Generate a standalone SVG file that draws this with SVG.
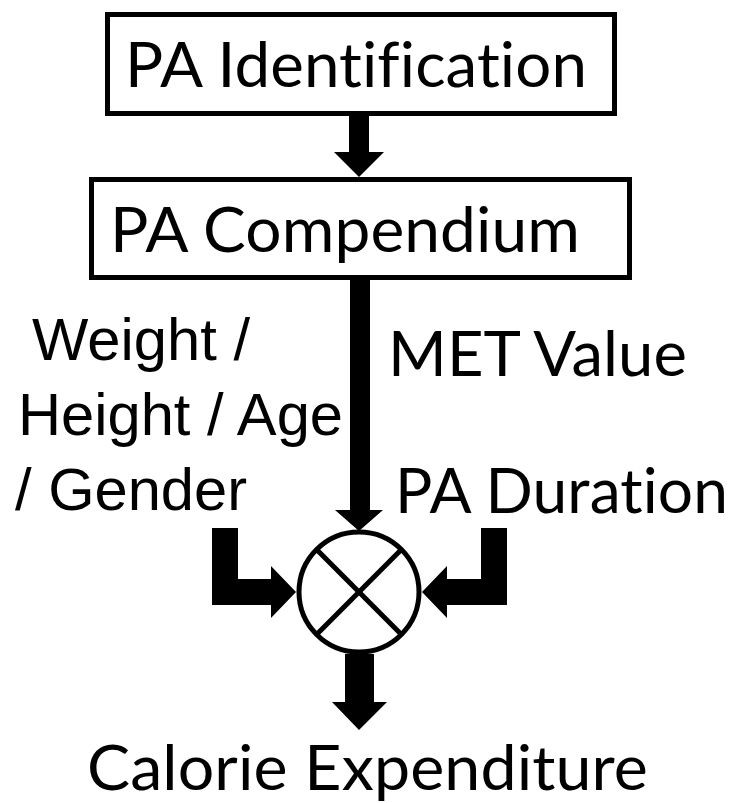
<svg xmlns="http://www.w3.org/2000/svg" width="734" height="803" viewBox="0 0 734 803">
<style>
.box{fill:#fff;stroke:#000;stroke-width:5}
.lbl{font-family:Lato,"Open Sans","Liberation Sans",sans-serif;font-size:62px;fill:#000;letter-spacing:0.1px;font-variant-ligatures:none;font-feature-settings:"liga" 0,"clig" 0,"calt" 0,"dlig" 0}
.lbl2{font-family:"Liberation Sans",Arial,sans-serif;font-size:60px;fill:#000}
.arr{fill:#000;stroke:none}
.ring{fill:#fff;stroke:#000;stroke-width:5}
</style>
<rect width="734" height="803" fill="#fff"/>
<g id="connectors">
<path class="arr" d="M349,116 H369 V152 H384 L359,177 L334,152 H349 Z"/>
<path class="arr" d="M350,280 H370 V510 H383 L359,531 L335,510 H350 Z"/>
<path class="arr" d="M212,528 H238 V579 H271 V566 L296,592 L271,618 V605 H212 Z"/>
<path class="arr" d="M507,528 H481 V579 H447 V566 L422,592 L447,618 V605 H507 Z"/>
<path class="arr" d="M345,654 H374 V702 H387 L359,730 L332,702 H345 Z"/>
</g>
<g id="pa-identification">
<rect class="box" x="107.5" y="14.5" width="507" height="99"/>
<text class="lbl" x="125" y="87" textLength="462" lengthAdjust="spacingAndGlyphs">PA Identification</text>
</g>
<g id="pa-compendium">
<rect class="box" x="91.5" y="179.5" width="538" height="98"/>
<text class="lbl" x="110" y="252" textLength="470" lengthAdjust="spacingAndGlyphs">PA Compendium</text>
</g>
<g id="met-value">
<text class="lbl" x="388" y="376" textLength="299" lengthAdjust="spacingAndGlyphs">MET Value</text>
</g>
<g id="pa-duration">
<text class="lbl" x="395" y="513" textLength="333" lengthAdjust="spacingAndGlyphs">PA Duration</text>
</g>
<g id="personal-data">
<text class="lbl2" x="32" y="360" textLength="218" lengthAdjust="spacingAndGlyphs">Weight /</text>
<text class="lbl2" x="18" y="435" textLength="325" lengthAdjust="spacingAndGlyphs">Height / Age</text>
<text class="lbl2" x="15" y="510" textLength="232" lengthAdjust="spacingAndGlyphs">/ Gender</text>
</g>
<g id="multiplier">
<circle class="ring" cx="359" cy="592" r="60"/>
<line x1="316.6" y1="549.6" x2="401.4" y2="634.4" stroke="#000" stroke-width="5"/>
<line x1="401.4" y1="549.6" x2="316.6" y2="634.4" stroke="#000" stroke-width="5"/>
</g>
<g id="calorie-expenditure">
<text class="lbl" x="87" y="790" textLength="561" lengthAdjust="spacingAndGlyphs">Calorie Expenditure</text>
</g>
</svg>
